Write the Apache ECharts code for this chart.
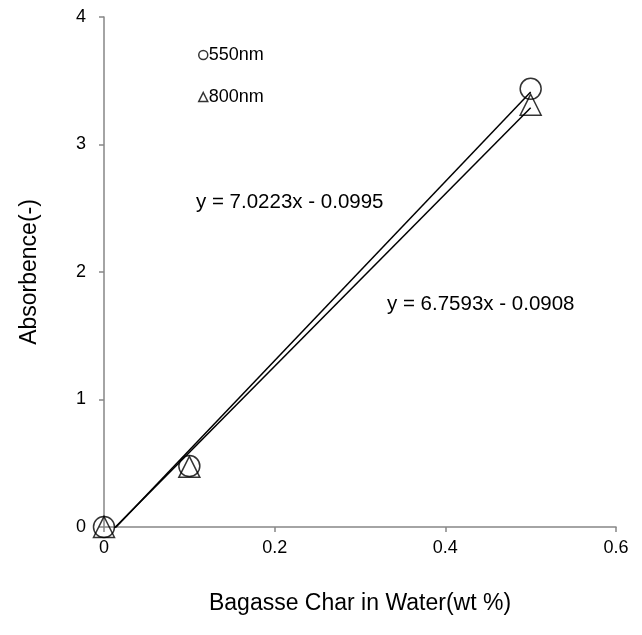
<!DOCTYPE html>
<html>
<head>
<meta charset="utf-8">
<script src="https://cdn.jsdelivr.net/npm/echarts@6/dist/echarts.min.js"></script>
<style>html,body{margin:0;padding:0;background:#fff}#c{width:642px;height:635px}</style>
</head>
<body>
<div id="c"></div>
<script>
const xValues = [0, 0.1, 0.5];
const abs550 = [0, 0.478, 3.437];
const abs800 = [0, 0.472, 3.312];
const fit550 = {slope: 7.0223, intercept: -0.0995};
const fit800 = {slope: 6.7593, intercept: -0.0908};
const eq550 = 'y = 7.0223x - 0.0995';
const eq800 = 'y = 6.7593x - 0.0908';
const xTicks = [0, 0.2, 0.4, 0.6];
const yTicks = [0, 1, 2, 3, 4];

const FONT = '"Liberation Sans", Arial, sans-serif';
const pts = (ys) => xValues.map((x, i) => [x, ys[i]]);
const fitLine = (f) => [[xValues[0], f.intercept + f.slope * xValues[0]], [xValues[xValues.length - 1], f.intercept + f.slope * xValues[xValues.length - 1]]];

const chart = echarts.init(document.getElementById('c'), null, {renderer: 'canvas'});
const axisCommon = {
  axisLine: {lineStyle: {color: '#868686', width: 1.5}},
  axisTick: {show: true, inside: false, length: 5, lineStyle: {color: '#868686', width: 1.5}},
  splitLine: {show: false},
  axisLabel: {color: '#000', fontSize: 18, fontFamily: FONT},
  nameTextStyle: {color: '#000', fontSize: 23, fontFamily: FONT}
};
chart.setOption({
  animation: false,
  backgroundColor: '#fff',
  grid: {left: 104, right: 26, top: 17, bottom: 108, containLabel: false},
  xAxis: Object.assign({}, axisCommon, {
    type: 'value', min: xTicks[0], max: xTicks[xTicks.length - 1], interval: 0.2,
    name: 'Bagasse Char in Water(wt %)', nameLocation: 'middle', nameGap: 65,
    axisLabel: Object.assign({}, axisCommon.axisLabel, {margin: 12})
  }),
  yAxis: Object.assign({}, axisCommon, {
    type: 'value', min: yTicks[0], max: yTicks[yTicks.length - 1], interval: 1,
    name: 'Absorbence(-)', nameLocation: 'middle', nameGap: 63,
    axisLabel: Object.assign({}, axisCommon.axisLabel, {margin: 18})
  }),
  legend: {
    orient: 'vertical', left: 193, top: 41, itemGap: 24,
    itemWidth: 9, itemHeight: 9,
    textStyle: {color: '#000', fontSize: 18, fontFamily: FONT, padding: [0, 0, 0, -4]},
    data: [
      {name: '550nm', icon: 'circle', itemStyle: {color: 'rgba(0,0,0,0)', borderColor: '#000', borderWidth: 1.5}},
      {name: '800nm', icon: 'triangle', itemStyle: {color: 'rgba(0,0,0,0)', borderColor: '#000', borderWidth: 1.5}}
    ]
  },
  series: [
    {name: 'fit550', type: 'line', data: fitLine(fit550), symbol: 'none', clip: true,
     lineStyle: {color: '#000', width: 1.5}, z: 3},
    {name: 'fit800', type: 'line', data: fitLine(fit800), symbol: 'none', clip: true,
     lineStyle: {color: '#000', width: 1.5}, z: 3},
    {name: '550nm', type: 'scatter', data: pts(abs550), symbol: 'circle', symbolSize: 21,
     itemStyle: {color: 'rgba(0,0,0,0)', borderColor: '#000', borderWidth: 1.5}, z: 2},
    {name: '800nm', type: 'scatter', data: pts(abs800), symbol: 'triangle', symbolSize: 21,
     itemStyle: {color: 'rgba(0,0,0,0)', borderColor: '#000', borderWidth: 1.5}, z: 2}
  ],
  graphic: [
    {type: 'text', left: 196, top: 192, style: {text: eq550, fill: '#000', font: '20.5px ' + FONT}},
    {type: 'text', left: 387, top: 294, style: {text: eq800, fill: '#000', font: '20.5px ' + FONT}}
  ]
});
</script>
</body>
</html>
